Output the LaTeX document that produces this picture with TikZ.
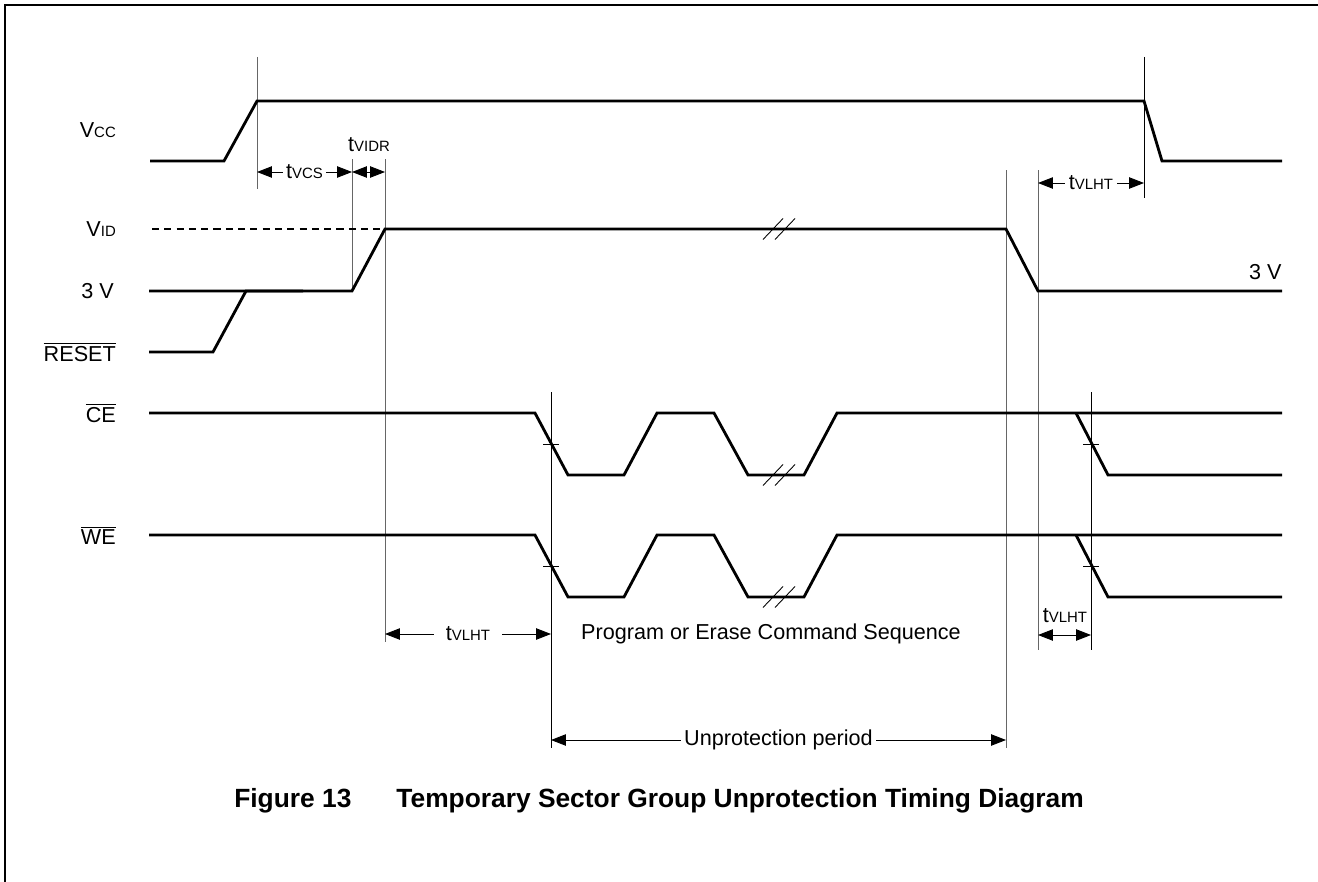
\documentclass[tikz,border=0pt]{standalone}
\usepackage{fontspec}
\setmainfont{Liberation Sans}
\usetikzlibrary{arrows.meta}
\usetikzlibrary{positioning}

\newcommand{\subtxt}[1]{{\fontsize{8.5}{10}\selectfont #1}}

\begin{document}
\begin{tikzpicture}[x=0.02cm, y=-0.02cm,
		sig/.style={line width=1.6pt},
		guide/.style={line width=0.5pt, draw=black!60},
		tick/.style={line width=0.5pt},
		dim/.style={line width=0.5pt, {Triangle[length=8.5pt,width=6.5pt]}-{Triangle[length=8.5pt,width=6.5pt]}},
		every node/.style={font=\fontsize{12.3}{14}\selectfont, inner sep=2pt}]
	\useasboundingbox (0,0) rectangle (1318,882);
	\draw[line width=1pt] (5,882) -- (5,5) -- (1318,5);

	\begin{scope}[every node/.style={anchor=east, font=\fontsize{12.3}{14}\selectfont}]
		\node (vcc) at (122,130) {V\subtxt{CC}};
		\node (vid) at (122,229) {V\subtxt{ID}};
		\node (three) at (120,291) {3 V};
		\node (reset) at (122,352) {$\overline{\mbox{RESET}}$};
		\node (ce) at (122,413) {$\overline{\mbox{CE}}$};
		\node (we) at (122,535) {$\overline{\mbox{WE}}$};
	\end{scope}
	\node[anchor=base east, inner sep=0pt] (threer) at (1282,279) {3 V};

	\begin{scope}[guide]
		\draw (257,57) -- (257,189);
		\draw (352,159) -- (352,291);
		\draw (385,159) -- (385,642);
		\draw (1006,170) -- (1006,748);
		\draw (1038,170) -- (1038,650);
		\draw[black] (551,392) -- (551,748);
		\draw[black] (1091,392) -- (1091,650);
		\draw[black] (1144,57) -- (1144,198);
	\end{scope}

	\draw[sig] (150,161) -- (224,161) -- (257,101) -- (1144,101) -- (1162,161) -- (1282,161);
	\draw[line width=0.6pt, dash pattern=on 4pt off 3pt] (152,229) -- (385,229);
	\draw[sig] (149,291) -- (352,291) -- (385,229) -- (1006,229) -- (1038,291) -- (1282,291);
	\draw[sig] (149,352) -- (213,352) -- (246,291) -- (303,291);
	\foreach \y in {413,535} {
		\draw[sig] (149,\y) -- (535,\y) -- (568,\y+62) -- (624,\y+62) -- (657,\y) -- (714,\y)
			-- (748,\y+62) -- (804,\y+62) -- (837,\y) -- (1282,\y);
		\draw[sig] (1076,\y) -- (1108,\y+62) -- (1282,\y+62);
		\draw[tick] (543,\y+31) -- (559,\y+31);
		\draw[tick] (1083,\y+31) -- (1099,\y+31);
	}
	\foreach \y in {229,475,597}
		\foreach \x in {773,785}
			\draw[line width=0.5pt] (\x-10,\y+10.5) -- (\x+10,\y-10.5);

	\coordinate (vcs-l) at (257,172);
	\coordinate (vcs-r) at (352,172);
	\coordinate (vidr-r) at (385,172);
	\coordinate (lht1-l) at (1038,183);
	\coordinate (lht1-r) at (1144,183);
	\coordinate (lht2-l) at (385,634);
	\coordinate (lht2-r) at (551,634);
	\coordinate (lht3-l) at (1038,635);
	\coordinate (lht3-r) at (1091,635);
	\coordinate (unp-l) at (551,740);
	\coordinate (unp-r) at (1006,740);

	\draw[dim] (vcs-l) -- node[fill=white] (tvcs) {t\subtxt{VCS}} (vcs-r);
	\draw[dim] (vcs-r) -- (vidr-r);
	\node (tvidr) at (369,145) {t\subtxt{VIDR}};
	\draw[dim] (lht1-l) -- node[fill=white] (tlht1) {t\subtxt{VLHT}} (lht1-r);
	\draw[dim] (lht2-l) -- node[fill=white, inner sep=7pt] (tlht2) {t\subtxt{VLHT}} (lht2-r);
	\draw[dim] (lht3-l) -- (lht3-r);
	\node (tlht3) at (1065,616) {t\subtxt{VLHT}};
	\draw[dim] (unp-l) -- node[fill=white] (unp) {Unprotection period} (unp-r);
	\node (prog) at (771,634) {Program or Erase Command Sequence};

	\node[font=\bfseries\fontsize{15}{18}\selectfont] (cap) at (659,801)
		{Figure 13\hspace{0.9cm}Temporary Sector Group Unprotection Timing Diagram};
\end{tikzpicture}
\end{document}
